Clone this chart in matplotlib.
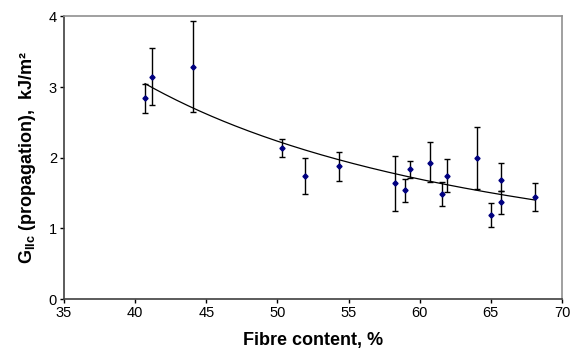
import matplotlib.pyplot as plt
import numpy as np

plt.rcParams['font.family'] = ['Liberation Sans', 'DejaVu Sans']
plt.rcParams['mathtext.fontset'] = 'custom'
plt.rcParams['mathtext.rm'] = 'Liberation Sans'
plt.rcParams['mathtext.bf'] = 'Liberation Sans:bold'

# fibre content (%) and G_IIc propagation (kJ/m2), with error bar ends
fibre = [40.7, 41.15, 44.05, 50.3, 51.95, 54.3, 58.25, 58.95, 59.3,
         60.7, 61.6, 61.95, 64.0, 65.0, 65.7, 65.7, 68.1]
g_iic = [2.84, 3.15, 3.29, 2.14, 1.74, 1.88, 1.64, 1.54, 1.84,
         1.93, 1.48, 1.74, 2.00, 1.19, 1.69, 1.37, 1.45]
err_hi = [3.05, 3.56, 3.93, 2.27, 1.99, 2.08, 2.03, 1.70, 1.96,
          2.22, 1.66, 1.98, 2.43, 1.36, 1.92, 1.53, 1.64]
err_lo = [2.63, 2.74, 2.65, 2.01, 1.49, 1.67, 1.25, 1.37, 1.72,
          1.65, 1.31, 1.51, 1.56, 1.02, 1.53, 1.21, 1.25]

x = np.array(fibre)
y = np.array(g_iic)
yerr = [y - np.array(err_lo), np.array(err_hi) - y]

fig = plt.figure(figsize=(5.84, 3.48), dpi=100)
ax = fig.add_axes([0.1096, 0.1408, 0.8527, 0.8118])

# power trendline, as excel would fit it
b, ln_a = np.polyfit(np.log(x), np.log(y), 1)
xt = np.linspace(x.min(), x.max(), 200)
ax.plot(xt, np.exp(ln_a) * xt ** b, color='black', lw=0.9, zorder=2)

ax.errorbar(x, y, yerr=yerr, fmt='D', color='#000080', ms=2.6,
            ecolor='black', elinewidth=1, capsize=2.5, capthick=1, zorder=3)

ax.set_xlim(35, 70)
ax.set_ylim(0, 4)
ax.set_xticks(range(35, 71, 5))
ax.set_yticks(range(0, 5))
ax.tick_params(direction='out', length=3, width=1, labelsize=10.5, pad=2)

for side in ['left', 'bottom']:
    ax.spines[side].set_color('#404040')
    ax.spines[side].set_linewidth(1.2)
for side in ['top', 'right']:
    ax.spines[side].set_color('#909090')
    ax.spines[side].set_linewidth(1.2)

ax.set_xlabel('Fibre content, %', fontsize=13, fontweight='bold', labelpad=9)
ax.set_ylabel(r'$\mathbf{G_{IIc}}$ (propagation),  kJ/m²', fontsize=13,
              fontweight='bold', labelpad=8)

fig.savefig('out.png', dpi=100)
